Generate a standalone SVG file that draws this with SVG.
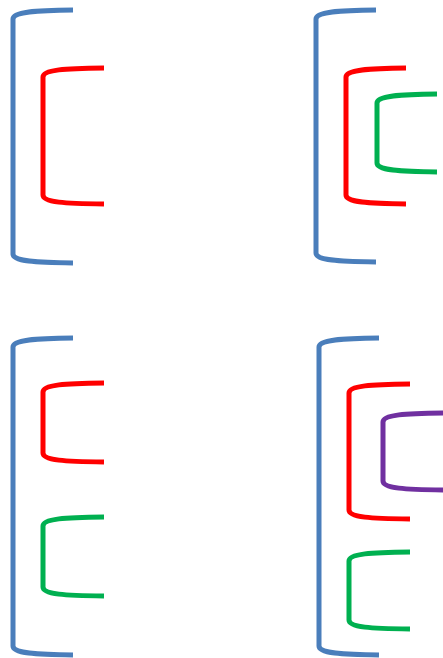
<svg xmlns="http://www.w3.org/2000/svg" width="443" height="658" viewBox="0 0 443 658">
<style>
path{fill:none;stroke-width:5;stroke-linecap:butt;stroke-linejoin:round}
.b{stroke:#4A7EBB}.r{stroke:#FF0000}.g{stroke:#00B050}.p{stroke:#7030A0}
</style>
<rect width="443" height="658" fill="#fff"/>
<g id="panel1">
<path class="b" d="M73,10 C35,10.5 13,11.5 13,19 L13,254 C13,261.5 35,262.5 73,263"/>
<path class="r" d="M104,68 C65,68.5 43,69.5 43,77 L43,195 C43,202.5 65,203.5 104,204"/>
</g>
<g id="panel2">
<path class="b" d="M376,10 C338,10.5 316,11.5 316,19 L316,253 C316,260.5 338,261.5 376,262"/>
<path class="r" d="M406,68 C368,68.5 346,69.5 346,77 L346,195 C346,202.5 368,203.5 406,204"/>
<path class="g" d="M437,94 C399,94.5 377,95.5 377,103 L377,163 C377,170.5 399,171.5 437,172"/>
</g>
<g id="panel3">
<path class="b" d="M73,338 C35,338.5 13,339.5 13,347 L13,646 C13,653.5 35,654.5 73,655"/>
<path class="r" d="M104,383 C65,383.5 43,384.5 43,392 L43,453 C43,460.5 65,461.5 104,462"/>
<path class="g" d="M104,517 C65,517.5 43,518.5 43,526 L43,587 C43,594.5 65,595.5 104,596"/>
</g>
<g id="panel4">
<path class="b" d="M379,338 C341,338.5 319,339.5 319,347 L319,646 C319,653.5 341,654.5 379,655"/>
<path class="r" d="M410,384 C371,384.5 349,385.5 349,393 L349,510 C349,517.5 371,518.5 410,519"/>
<path class="p" d="M444,413 C405,413.5 383,414.5 383,422 L383,481 C383,488.5 405,489.5 444,490"/>
<path class="g" d="M410,552 C371,552.5 349,553.5 349,561 L349,620 C349,627.5 371,628.5 410,629"/>
</g>
</svg>
